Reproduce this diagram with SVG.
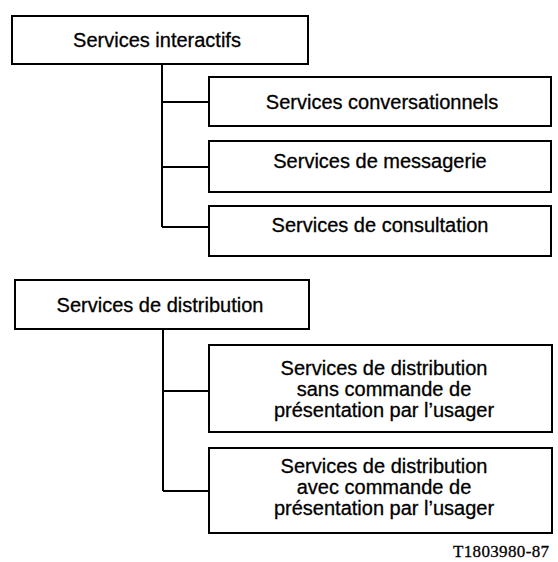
<svg xmlns="http://www.w3.org/2000/svg" width="558" height="562" viewBox="0 0 558 562">
<style>
.box{fill:#fff;stroke:#000;stroke-width:2}
.t{font-family:"Liberation Sans",Arial,sans-serif;font-size:20px;fill:#000;stroke:#000;stroke-width:0.3;text-anchor:middle}
.c{fill:none;stroke:#000;stroke-width:2}
.ref{font-family:"Liberation Serif","Times New Roman",serif;font-size:17px;fill:#000;stroke:#000;stroke-width:0.3;text-anchor:end}
</style>
<rect width="558" height="562" fill="#fff"/>
<g id="connectors">
<path class="c" d="M162 64V227M162 102H209M162 167H209M162 227H209"/>
<path class="c" d="M163 329V491M163 391H209M163 491H209"/>
</g>
<g id="interactifs"><rect class="box" x="12" y="16" width="296" height="48"/><text class="t" x="157" y="47">Services interactifs</text></g>
<g id="conversationnels"><rect class="box" x="209" y="77" width="342" height="49"/><text class="t" x="382" y="109">Services conversationnels</text></g>
<g id="messagerie"><rect class="box" x="209" y="141" width="342" height="51"/><text class="t" x="380" y="168">Services de messagerie</text></g>
<g id="consultation"><rect class="box" x="209" y="206" width="342" height="50"/><text class="t" x="380" y="232">Services de consultation</text></g>
<g id="distribution"><rect class="box" x="15" y="280" width="294" height="49"/><text class="t" x="160" y="312">Services de distribution</text></g>
<g id="sans-commande"><rect class="box" x="209" y="345" width="343" height="87"/><text class="t" x="384" y="375">Services de distribution</text><text class="t" x="384" y="396">sans commande de</text><text class="t" x="384" y="417">présentation par l’usager</text></g>
<g id="avec-commande"><rect class="box" x="209" y="448" width="343" height="85"/><text class="t" x="384" y="473">Services de distribution</text><text class="t" x="384" y="494">avec commande de</text><text class="t" x="384" y="515">présentation par l’usager</text></g>
<text class="ref" x="549" y="557" textLength="96">T1803980-87</text>
</svg>
